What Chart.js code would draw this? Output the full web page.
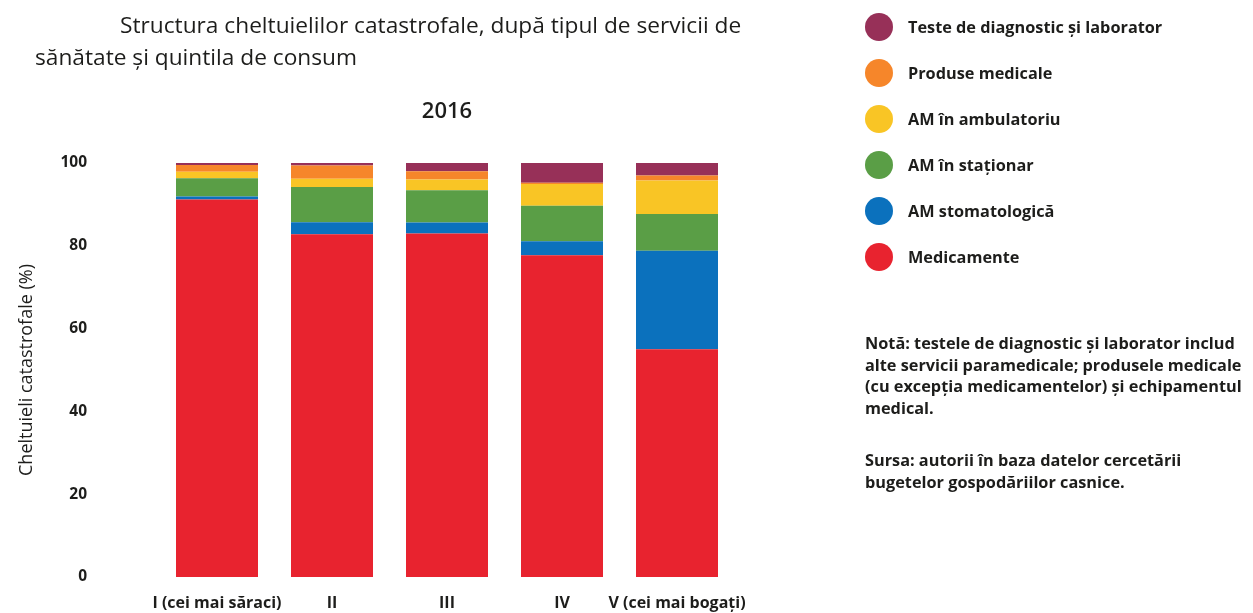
<!DOCTYPE html>
<html lang="ro">
<head>
<meta charset="utf-8">
<title>Structura cheltuielilor catastrofale</title>
<script src="https://cdn.jsdelivr.net/npm/chart.js@4.4.1/dist/chart.umd.min.js"></script>
<style>
  html, body { margin: 0; padding: 0; background: #fff; }
  #wrap { position: relative; width: 1253px; height: 613px; font-family: "Open Sans", Lato, sans-serif; color: #1d1d1b; }
  #grafic { position: absolute; left: 0; top: 0; }
  .titlu { position: absolute; font-size: 22.7px; font-weight: 500; line-height: 26px; white-space: nowrap; }
  #legenda { position: absolute; left: 865px; top: 13px; }
  .item { position: relative; height: 46px; }
  .cerc { position: absolute; left: 0; top: 0; width: 28px; height: 28px; border-radius: 50%; }
  .item span { position: absolute; left: 43px; top: 3px; font-size: 16.3px; font-weight: 700; line-height: 22px; white-space: nowrap; }
  .nota { position: absolute; left: 865px; font-size: 16.3px; font-weight: 700; line-height: 21.7px; white-space: nowrap; }
</style>
</head>
<body>
<div id="wrap">
  <canvas id="grafic" width="1253" height="613"></canvas>
  <div class="titlu" style="left:120px; top:12px;">Structura cheltuielilor catastrofale, după tipul de servicii de</div>
  <div class="titlu" style="left:35px; top:44px;">sănătate și quintila de consum</div>
  <div id="legenda"></div>
  <div class="nota" style="top:333px;">Notă: testele de diagnostic şi laborator includ<br>alte servicii paramedicale; produsele medicale<br>(cu excepţia medicamentelor) şi echipamentul<br>medical.</div>
  <div class="nota" style="top:450px;">Sursa: autorii în baza datelor cercetării<br>bugetelor gospodăriilor casnice.</div>
</div>
<script>
// quintile de consum
var categorii = ['I (cei mai săraci)', 'II', 'III', 'IV', 'V (cei mai bogaţi)'];

// ponderea in cheltuieli catastrofale, %
var medicamente = [91.2, 82.8, 83.0, 77.7, 55.0];
var stomatologie = [0.7, 2.9, 2.6, 3.4, 23.8];
var stationar = [4.4, 8.5, 7.8, 8.6, 8.9];
var ambulatoriu = [1.6, 2.0, 2.6, 5.2, 8.1];
var produse = [1.6, 3.2, 2.0, 0.3, 1.2];
var teste = [0.5, 0.6, 2.0, 4.8, 3.0];

var tickuriY = [0, 20, 40, 60, 80, 100];

var serii = [
    { label: 'Medicamente', data: medicamente, color: '#e8232f' },
    { label: 'AM stomatologică', data: stomatologie, color: '#0b71bd' },
    { label: 'AM în staţionar', data: stationar, color: '#5a9e46' },
    { label: 'AM în ambulatoriu', data: ambulatoriu, color: '#f9c525' },
    { label: 'Produse medicale', data: produse, color: '#f6862a' },
    { label: 'Teste de diagnostic şi laborator', data: teste, color: '#973058' }
];

var font = '"Open Sans", Lato, sans-serif';

var ctx = document.getElementById('grafic');
new Chart(ctx, {
    type: 'bar',
    data: {
        labels: categorii,
        datasets: serii.map(function (s) {
            return {
                label: s.label,
                data: s.data,
                backgroundColor: s.color,
                borderWidth: 0,
                barPercentage: 0.713,
                categoryPercentage: 1
            };
        })
    },
    options: {
        responsive: false,
        animation: false,
        devicePixelRatio: 1,
        layout: {
            padding: { left: 16, right: 518.5, top: 0, bottom: 0 }
        },
        plugins: {
            legend: { display: false },
            tooltip: { enabled: false },
            title: {
                display: true,
                text: '2016',
                fullSize: false,
                color: '#1d1d1b',
                font: { family: font, size: 22, weight: 600 },
                padding: { top: 98.8, bottom: 37.8 }
            }
        },
        scales: {
            x: {
                stacked: true,
                grid: { display: false, drawTicks: false },
                border: { display: false },
                ticks: {
                    color: '#1d1d1b',
                    font: { family: font, size: 16, weight: 700 },
                    padding: 16.4,
                    autoSkip: false,
                    maxRotation: 0
                },
                afterFit: function (axis) { axis.height = 36; }
            },
            y: {
                stacked: true,
                min: 0,
                max: 100,
                grid: { display: false, drawTicks: false },
                border: { display: false },
                afterBuildTicks: function (axis) {
                    axis.ticks = tickuriY.map(function (v) { return { value: v }; });
                },
                ticks: {
                    color: '#1d1d1b',
                    font: { family: font, size: 15.5, weight: 700 },
                    padding: 72.5
                },
                title: {
                    display: true,
                    text: 'Cheltuieli catastrofale (%)',
                    color: '#1d1d1b',
                    font: { family: font, size: 18 },
                    padding: { top: 0, bottom: 0 }
                },
                afterFit: function (axis) {
                    axis.width = 143.5;
                    axis.paddingTop = 0;
                    axis.paddingBottom = 0;
                }
            }
        }
    }
});

// legenda, de sus in jos ca in grafic
var legenda = document.getElementById('legenda');
serii.slice().reverse().forEach(function (s) {
    var d = document.createElement('div');
    d.className = 'item';
    d.innerHTML = '<div class="cerc" style="background:' + s.color + '"></div><span>' + s.label + '</span>';
    legenda.appendChild(d);
});
</script>
</body>
</html>
